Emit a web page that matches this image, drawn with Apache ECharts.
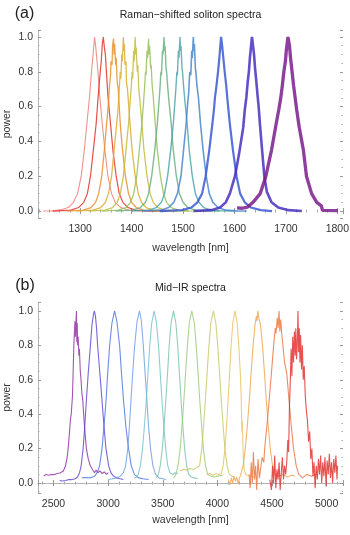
<!DOCTYPE html>
<html>
<head>
<meta charset="utf-8">
<script src="https://cdn.jsdelivr.net/npm/echarts@6/dist/echarts.min.js"></script>
<style>
  html, body { margin: 0; padding: 0; background: #fff; }
  #chart { width: 350px; height: 535px; }
</style>
</head>
<body>
<div id="chart"></div>
<script>
// (a) Raman-shifted soliton spectra, [wavelength nm, power]
const raman1328 = [[1228,0],[1245,0.001],[1260,0.005],[1277,0.02],[1287,0.05],[1295,0.1],[1302,0.2],[1308,0.35],[1313,0.5],[1318,0.65],[1322,0.8],[1326,0.93],[1328,1.0],[1330,0.95],[1334,0.82],[1338,0.66],[1343,0.5],[1348,0.35],[1354,0.2],[1361,0.1],[1368,0.05],[1379,0.02],[1395,0.005],[1418,0.001],[1448,0]];
const raman1345 = [[1247,0],[1282,0.005],[1297,0.02],[1307,0.05],[1314,0.1],[1320,0.2],[1326,0.36],[1331,0.5],[1335,0.66],[1339,0.8],[1341,0.86],[1343,0.96],[1345,1.0],[1347,0.94],[1349,0.9],[1351,0.8],[1354,0.66],[1359,0.5],[1364,0.34],[1370,0.2],[1376,0.1],[1383,0.05],[1393,0.02],[1408,0.005],[1429,0.001],[1457,0]];
const raman1365 = [[1274,0],[1306,0.005],[1321,0.02],[1330,0.05],[1336,0.1],[1342,0.2],[1347,0.35],[1352,0.52],[1355,0.62],[1357,0.72],[1359,0.78],[1360,0.86],[1362,0.84],[1363,0.95],[1365,0.99],[1366,0.9],[1367,0.96],[1369,0.84],[1370,0.88],[1372,0.74],[1374,0.7],[1376,0.6],[1378,0.5],[1382,0.36],[1388,0.2],[1394,0.1],[1400,0.05],[1409,0.02],[1423,0.005],[1443,0.001],[1469,0]];
const raman1384 = [[1293,0],[1325,0.005],[1340,0.02],[1349,0.05],[1355,0.1],[1361,0.2],[1366,0.35],[1371,0.5],[1374,0.6],[1376,0.7],[1378,0.8],[1379,0.76],[1381,0.9],[1382,0.86],[1384,1.0],[1385,0.92],[1386,0.96],[1387,0.84],[1389,0.86],[1390,0.74],[1392,0.7],[1394,0.62],[1397,0.5],[1401,0.35],[1407,0.2],[1413,0.1],[1419,0.05],[1428,0.02],[1442,0.005],[1462,0.001],[1488,0]];
const raman1407 = [[1316,0],[1348,0.005],[1363,0.02],[1372,0.05],[1378,0.1],[1384,0.2],[1389,0.35],[1394,0.5],[1397,0.62],[1399,0.7],[1401,0.8],[1402,0.76],[1404,0.92],[1405,0.86],[1407,1.0],[1408,0.9],[1409,0.94],[1411,0.8],[1412,0.84],[1414,0.7],[1416,0.64],[1420,0.5],[1424,0.35],[1430,0.2],[1436,0.1],[1442,0.05],[1451,0.02],[1465,0.005],[1485,0.001],[1511,0]];
const raman1433 = [[1342,0],[1374,0.005],[1389,0.02],[1398,0.05],[1404,0.1],[1410,0.2],[1415,0.35],[1420,0.5],[1423,0.62],[1425,0.7],[1427,0.8],[1428,0.78],[1430,0.92],[1431,0.88],[1433,0.99],[1434,0.9],[1435,0.95],[1437,0.82],[1438,0.84],[1440,0.72],[1442,0.66],[1446,0.5],[1450,0.35],[1456,0.2],[1462,0.1],[1468,0.05],[1477,0.02],[1491,0.005],[1511,0.001],[1537,0]];
const raman1463 = [[1369,0],[1402,0.005],[1417,0.02],[1427,0.05],[1433,0.1],[1439,0.2],[1445,0.35],[1450,0.5],[1453,0.62],[1455,0.7],[1457,0.8],[1458,0.78],[1460,0.92],[1461,0.9],[1463,1.0],[1464,0.92],[1465,0.95],[1467,0.82],[1468,0.8],[1470,0.72],[1472,0.65],[1477,0.5],[1481,0.35],[1487,0.2],[1493,0.1],[1500,0.05],[1509,0.02],[1524,0.005],[1544,0.001],[1571,0]];
const raman1494 = [[1400,0],[1433,0.005],[1448,0.02],[1458,0.05],[1464,0.1],[1470,0.2],[1476,0.35],[1481,0.5],[1484,0.62],[1486,0.7],[1488,0.8],[1489,0.78],[1491,0.92],[1492,0.88],[1494,1.0],[1495,0.92],[1496,0.95],[1498,0.82],[1499,0.8],[1501,0.72],[1503,0.65],[1508,0.5],[1512,0.35],[1518,0.2],[1524,0.1],[1531,0.05],[1540,0.02],[1555,0.005],[1575,0.001],[1602,0]];
const raman1520 = [[1422,0],[1457,0.005],[1472,0.02],[1482,0.05],[1489,0.1],[1496,0.2],[1501,0.35],[1506,0.5],[1509,0.62],[1511,0.68],[1513,0.8],[1515,0.78],[1517,0.92],[1518,0.88],[1520,1.0],[1521,0.92],[1522,0.96],[1524,0.82],[1525,0.8],[1527,0.72],[1530,0.65],[1534,0.5],[1539,0.35],[1545,0.2],[1551,0.1],[1558,0.05],[1568,0.02],[1583,0.005],[1604,0.001],[1624,0]];
const raman1574 = [[1455,0],[1498,0.005],[1516,0.02],[1528,0.05],[1537,0.1],[1544,0.2],[1551,0.35],[1557,0.5],[1560,0.58],[1562,0.65],[1565,0.72],[1568,0.8],[1570,0.86],[1572,0.93],[1574,1.0],[1576,0.95],[1577,0.92],[1579,0.86],[1581,0.8],[1584,0.72],[1586,0.65],[1591,0.5],[1597,0.35],[1604,0.2],[1611,0.1],[1620,0.05],[1632,0.02],[1651,0.005],[1673,0]];
const raman1634 = [[1521,0],[1555,0.005],[1572,0.02],[1583,0.05],[1591,0.1],[1601,0.2],[1609,0.33],[1617,0.48],[1620,0.58],[1623,0.65],[1626,0.75],[1628,0.8],[1630,0.88],[1632,0.94],[1634,1.0],[1636,0.95],[1638,0.9],[1640,0.82],[1642,0.76],[1645,0.66],[1647,0.6],[1650,0.48],[1654,0.34],[1658,0.2],[1663,0.11],[1672,0.05],[1685,0.02],[1705,0.005],[1731,0]];
const raman1704 = [[1605,0.018],[1615,0.016],[1625,0.022],[1636,0.05],[1650,0.1],[1661,0.2],[1672,0.35],[1681,0.5],[1686,0.58],[1690,0.65],[1693,0.72],[1696,0.8],[1699,0.86],[1701,0.93],[1704,1.0],[1707,0.95],[1709,0.88],[1712,0.8],[1715,0.72],[1718,0.65],[1721,0.58],[1726,0.48],[1734,0.35],[1740,0.2],[1750,0.1],[1760,0.05],[1769,0.03],[1771,0.004],[1801,0.002]];

// (b) Mid-IR spectra, [wavelength nm, power]
const midIr2710 = [[2410,0.04],[2430,0.05],[2455,0.045],[2480,0.05],[2505,0.048],[2530,0.055],[2560,0.058],[2590,0.07],[2610,0.1],[2625,0.15],[2634,0.2],[2647,0.3],[2655,0.37],[2662,0.4],[2673,0.5],[2680,0.65],[2686,0.8],[2692,0.88],[2696,0.94],[2700,0.85],[2704,0.92],[2710,1.0],[2713,0.82],[2717,0.93],[2721,0.8],[2726,0.85],[2732,0.74],[2737,0.78],[2745,0.65],[2752,0.6],[2760,0.52],[2768,0.48],[2778,0.38],[2790,0.28],[2801,0.2],[2818,0.14],[2837,0.1],[2855,0.08],[2875,0.06],[2890,0.075],[2905,0.06],[2925,0.07],[2945,0.055],[2965,0.065],[2985,0.05],[3002,0.06]];
const midIr2874 = [[2557,0.015],[2580,0.012],[2610,0.015],[2640,0.02],[2670,0.02],[2700,0.025],[2720,0.035],[2738,0.06],[2753,0.1],[2771,0.2],[2786,0.33],[2801,0.48],[2818,0.64],[2838,0.8],[2852,0.92],[2866,0.98],[2874,1.0],[2884,0.97],[2894,0.9],[2904,0.8],[2924,0.64],[2944,0.48],[2962,0.33],[2980,0.2],[3005,0.1],[3025,0.06],[3050,0.04],[3080,0.03],[3110,0.025],[3140,0.02]];
const midIr3059 = [[2762,0.03],[2800,0.032],[2840,0.03],[2875,0.04],[2900,0.06],[2922,0.1],[2944,0.2],[2962,0.33],[2981,0.48],[2996,0.64],[3014,0.8],[3035,0.93],[3059,1.0],[3080,0.94],[3105,0.8],[3122,0.64],[3141,0.48],[3162,0.33],[3187,0.2],[3212,0.1],[3240,0.05],[3280,0.03],[3320,0.025],[3370,0.02]];
const midIr3287 = [[3002,0.02],[3040,0.025],[3080,0.03],[3110,0.04],[3140,0.06],[3160,0.1],[3180,0.2],[3195,0.33],[3209,0.48],[3225,0.64],[3243,0.8],[3265,0.94],[3287,1.0],[3305,0.94],[3322,0.8],[3338,0.64],[3355,0.48],[3370,0.33],[3388,0.2],[3410,0.1],[3435,0.05],[3465,0.03],[3500,0.025],[3530,0.02]];
const midIr3421 = [[3240,0.03],[3262,0.035],[3275,0.05],[3295,0.1],[3315,0.2],[3332,0.33],[3349,0.48],[3365,0.64],[3381,0.8],[3399,0.93],[3421,1.0],[3443,0.93],[3461,0.8],[3477,0.64],[3493,0.48],[3510,0.33],[3527,0.2],[3546,0.1],[3565,0.06],[3590,0.05],[3615,0.06],[3640,0.055]];
const midIr3598 = [[3440,0.03],[3460,0.05],[3477,0.1],[3496,0.2],[3512,0.33],[3528,0.48],[3544,0.64],[3559,0.8],[3576,0.93],[3598,1.0],[3620,0.93],[3637,0.8],[3652,0.64],[3668,0.48],[3684,0.33],[3700,0.2],[3719,0.1],[3737,0.05],[3760,0.035],[3790,0.03],[3820,0.025]];
const midIr3766 = [[3600,0.03],[3620,0.05],[3640,0.1],[3660,0.2],[3676,0.33],[3693,0.48],[3709,0.64],[3726,0.8],[3743,0.93],[3766,1.0],[3789,0.93],[3806,0.8],[3823,0.64],[3839,0.48],[3856,0.33],[3872,0.2],[3892,0.1],[3912,0.05],[3940,0.04],[3970,0.035],[4000,0.04],[4050,0.045]];
const midIr3963 = [[3660,0.07],[3690,0.08],[3720,0.075],[3750,0.085],[3780,0.078],[3810,0.088],[3837,0.1],[3857,0.2],[3873,0.33],[3890,0.48],[3906,0.64],[3923,0.8],[3940,0.93],[3963,1.0],[3986,0.93],[4003,0.8],[4020,0.64],[4036,0.48],[4053,0.33],[4069,0.2],[4089,0.1],[4109,0.05],[4130,0.04],[4160,0.035]];
const midIr4161 = [[3902,0.05],[3930,0.055],[3960,0.045],[3990,0.055],[4015,0.048],[4036,0.055],[4052,0.1],[4070,0.2],[4084,0.33],[4098,0.48],[4112,0.64],[4126,0.8],[4141,0.93],[4161,1.0],[4181,0.93],[4196,0.8],[4210,0.64],[4218,0.5],[4224,0.3],[4228,0.36],[4233,0.24],[4238,0.15],[4245,0.08],[4260,0.05],[4300,0.04],[4340,0.035]];
const midIr4370 = [[4100,0.02],[4115,-0.01],[4128,0.03],[4140,0.0],[4152,0.04],[4165,0.01],[4178,0.035],[4190,-0.005],[4203,0.03],[4214,0.05],[4235,0.1],[4256,0.2],[4274,0.33],[4292,0.48],[4309,0.64],[4327,0.8],[4346,0.93],[4358,0.97],[4364,0.94],[4370,1.0],[4380,0.96],[4394,0.92],[4413,0.8],[4431,0.64],[4448,0.48],[4466,0.33],[4484,0.2],[4505,0.1],[4526,0.05],[4560,0.04],[4600,0.05],[4640,0.035],[4680,0.045],[4710,0.04]];
const midIr4565 = [[4290,0.05],[4300,-0.03],[4310,0.12],[4320,0.0],[4330,0.18],[4340,0.02],[4350,0.1],[4360,-0.04],[4372,0.14],[4385,0.03],[4395,0.08],[4410,0.15],[4425,0.12],[4433,0.2],[4453,0.33],[4474,0.48],[4495,0.64],[4515,0.8],[4530,0.9],[4537,0.87],[4548,0.96],[4556,0.9],[4565,1.0],[4572,0.88],[4580,0.95],[4590,0.86],[4600,0.8],[4615,0.7],[4635,0.64],[4656,0.48],[4677,0.33],[4697,0.2],[4722,0.1],[4745,0.05],[4780,0.03],[4820,0.05],[4860,0.04],[4900,0.05]];
const midIr4738 = [[4480,0.02],[4495,-0.04],[4505,0.1],[4515,0.0],[4525,0.16],[4535,-0.03],[4545,0.08],[4555,0.02],[4565,0.12],[4575,-0.04],[4585,0.06],[4595,0.15],[4605,0.02],[4615,0.1],[4625,0.05],[4635,0.12],[4645,0.25],[4652,0.18],[4660,0.45],[4668,0.6],[4675,0.78],[4682,0.62],[4690,0.85],[4697,0.7],[4705,0.88],[4712,0.74],[4718,0.9],[4725,0.72],[4732,0.82],[4738,1.0],[4744,0.76],[4750,0.9],[4756,0.7],[4762,0.86],[4770,0.66],[4778,0.8],[4786,0.6],[4795,0.68],[4805,0.5],[4815,0.42],[4825,0.36],[4835,0.24],[4845,0.3],[4855,0.14],[4865,0.2],[4875,0.04],[4885,0.12],[4895,-0.03],[4905,0.1],[4915,0.02],[4925,0.14],[4935,0.05],[4945,0.16],[4955,0.0],[4965,0.12],[4975,0.04],[4985,0.15],[4995,-0.02],[5005,0.13],[5015,0.05],[5025,0.17],[5035,0.03],[5045,0.12],[5055,0.0],[5065,0.14],[5075,0.06],[5085,0.16],[5095,0.02],[5100,0.1]];

const ramanSpectra = [raman1328, raman1345, raman1365, raman1384, raman1407, raman1433, raman1463, raman1494, raman1520, raman1574, raman1634, raman1704];
const midIrSpectra = [midIr2710, midIr2874, midIr3059, midIr3287, midIr3421, midIr3598, midIr3766, midIr3963, midIr4161, midIr4370, midIr4565, midIr4738];

const ramanColors = ["#e8645c", "#e03028", "#e8902c", "#dcab2c", "#c4bc3a", "#98c058", "#6cb080", "#4fa4a8", "#4a88cc", "#3a5ad4", "#4630c0", "#7a1c8c"];
const ramanWidths = [1.1, 1.2, 1.3, 1.3, 1.3, 1.3, 1.4, 1.4, 1.6, 2.2, 2.6, 3.3];
const midIrColors = ["#8b2a9b", "#5b3fd1", "#4c6ee0", "#6a9be0", "#72c0c8", "#78c0a8", "#98c878", "#c4c860", "#e6c25a", "#eda248", "#e8703a", "#e02525"];

const FONT = "Liberation Sans";
const chart = echarts.init(document.getElementById("chart"), null, { renderer: "canvas" });

function yLabel(v) {
  const k = Math.round(v * 5);
  return Math.abs(v * 5 - k) < 1e-6 ? (k / 5).toFixed(1) : "";
}

function xAxisFor(gridIndex, min, max, step, position, showLine, withLabels) {
  return {
    type: "value",
    gridIndex,
    position,
    min,
    max,
    name: withLabels ? "wavelength [nm]" : "",
    nameLocation: "middle",
    nameGap: gridIndex === 0 ? 25 : 22,
    nameMoveOverlap: false,
    nameTextStyle: { fontFamily: FONT, fontSize: 10.5, color: "#333" },
    axisLine: { show: showLine, lineStyle: { color: "#b4b4b4", width: 1 } },
    axisTick: { show: true, inside: true, length: 3, lineStyle: { color: "#999" } },
    minorTick: { show: true, splitNumber: 5, length: 1.5, lineStyle: { color: "#aaa" } },
    splitLine: { show: false },
    axisLabel: {
      show: withLabels,
      margin: 6,
      fontFamily: FONT,
      fontSize: 10.5,
      color: "#333",
      formatter: (v) => (v % step === 0 ? String(v) : ""),
    },
  };
}

function yAxisFor(gridIndex, min, max, position, showLine, withLabels) {
  return {
    type: "value",
    gridIndex,
    position,
    min,
    max,
    name: withLabels ? "power" : "",
    nameLocation: "middle",
    nameRotate: 90,
    nameGap: 25,
    nameMoveOverlap: false,
    nameTextStyle: { fontFamily: FONT, fontSize: 10.5, color: "#333" },
    axisLine: { show: showLine, lineStyle: { color: "#b4b4b4", width: 1 } },
    axisTick: { show: true, inside: true, length: 3, lineStyle: { color: "#999" } },
    minorTick: { show: true, splitNumber: 4, length: 1.5, lineStyle: { color: "#aaa" } },
    splitLine: { show: false },
    axisLabel: {
      show: withLabels,
      margin: 5,
      fontFamily: FONT,
      fontSize: 10.5,
      color: "#333",
      formatter: yLabel,
    },
  };
}

function text(x, y, str, size) {
  return {
    type: "text",
    x,
    y,
    style: {
      text: str,
      fontFamily: FONT,
      fontSize: size,
      fill: "#222",
      align: "center",
      verticalAlign: "middle",
      textAlign: "center",
      textVerticalAlign: "middle",
    },
  };
}

const series = [];
ramanSpectra.forEach((data, i) => {
  series.push({
    type: "line",
    xAxisIndex: 0,
    yAxisIndex: 0,
    data,
    symbol: "none",
    silent: true,
    lineStyle: { color: ramanColors[i], width: ramanWidths[i], opacity: i === 0 ? 0.7 : 0.85 },
  });
});
midIrSpectra.forEach((data, i) => {
  series.push({
    type: "line",
    xAxisIndex: 2,
    yAxisIndex: 2,
    data,
    symbol: "none",
    silent: true,
    lineStyle: { color: midIrColors[i], width: 1.1, opacity: 0.8 },
  });
});

chart.setOption({
  animation: false,
  backgroundColor: "#fff",
  grid: [
    { left: 38, top: 30, width: 305, height: 188, outerBoundsMode: "none" },
    { left: 38, top: 302, width: 305, height: 191, outerBoundsMode: "none" },
  ],
  xAxis: [
    xAxisFor(0, 1218, 1811, 100, "bottom", false, true),
    xAxisFor(0, 1218, 1811, 100, "top", false, false),
    xAxisFor(1, 2358, 5150, 500, "bottom", true, true),
    xAxisFor(1, 2358, 5150, 500, "top", true, false),
  ],
  yAxis: [
    yAxisFor(0, -0.04, 1.04, "left", true, true),
    yAxisFor(0, -0.04, 1.04, "right", false, false),
    yAxisFor(1, -0.058, 1.052, "left", true, true),
    yAxisFor(1, -0.058, 1.052, "right", false, false),
  ],
  graphic: [
    text(24.5, 14, "(a)", 16),
    text(190.5, 15.5, "Raman\u2212shifted soliton spectra", 10.5),
    text(25, 286, "(b)", 16),
    text(190.5, 288, "Mid\u2212IR spectra", 10.5),
  ],
  series,
});
</script>
</body>
</html>
